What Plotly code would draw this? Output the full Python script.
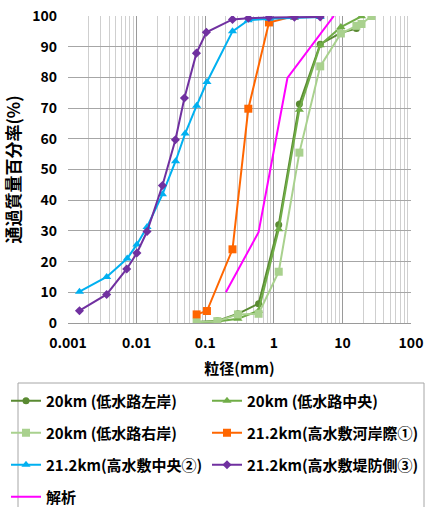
import plotly.graph_objects as go

FONT = "Noto Sans CJK JP"

names = ["20km (低水路左岸)", "20km (低水路中央)", "20km (低水路右岸)",
         "21.2km(高水敷河岸際①)", "21.2km(高水敷中央②)", "21.2km(高水敷堤防側③)", "解析"]

x_left = [0.075, 0.15, 0.3, 0.6, 1.18, 2.36, 4.75, 9.5, 16]
y_left = [0.3, 0.7, 3.0, 6.3, 32.0, 71.3, 90.8, 94.5, 95.9]

x_mid = [0.075, 0.15, 0.3, 0.6, 1.18, 2.36, 4.75, 9.5, 19]
y_mid = [0.2, 0.5, 1.4, 4.0, 30.5, 69.5, 90.5, 96.4, 99.9]

x_right = [0.075, 0.15, 0.3, 0.6, 1.18, 2.36, 4.75, 9.5, 16, 19, 26.5]
y_right = [0.3, 0.6, 2.8, 3.0, 16.7, 55.5, 83.6, 94.3, 96.8, 97.4, 100]

x_p1 = [0.075, 0.106, 0.25, 0.425, 0.85, 2.0]
y_p1 = [2.8, 3.9, 24.0, 69.8, 97.9, 100]

x_p2 = [0.00147, 0.00366, 0.0073, 0.0101, 0.0142, 0.0238, 0.037, 0.051, 0.075, 0.106,
        0.25, 0.425, 0.85, 2.0, 4.75]
y_p2 = [10.2, 15.0, 21.0, 25.6, 31.3, 41.9, 52.7, 61.7, 70.8, 78.5, 95.0, 98.6, 99.1, 99.5, 99.7]

x_p3 = [0.00147, 0.00366, 0.00718, 0.0101, 0.0142, 0.0238, 0.0368, 0.0498, 0.0745, 0.104,
        0.25, 0.425, 0.85, 2.0, 4.75]
y_p3 = [4.0, 9.3, 17.6, 22.8, 29.8, 44.8, 59.7, 73.3, 87.9, 94.7, 98.9, 99.3, 99.5, 99.6, 99.7]

x_calc = [0.2, 0.6, 1.58, 7.5]
y_calc = [10.0, 29.6, 79.8, 100]

x_ticks = [0.001, 0.01, 0.1, 1, 10, 100]
x_ticktext = ["0.001", "0.01", "0.1", "1", "10", "100"]
y_ticks = [0, 10, 20, 30, 40, 50, 60, 70, 80, 90, 100]

series = [
    (x_left, y_left, "#5a8a32", "circle", 7),
    (x_mid, y_mid, "#70ad47", "triangle-up", 8),
    (x_right, y_right, "#a9d18e", "square", 8),
    (x_p1, y_p1, "#ff6600", "square", 8),
    (x_p2, y_p2, "#00b0f0", "triangle-up", 8),
    (x_p3, y_p3, "#7030a0", "diamond", 7),
]

legend_ids = ["legend", "legend2", "legend3", "legend4", "legend5", "legend6", "legend7"]

fig = go.Figure()
for (xs, ys, col, sym, sz), nm, lg in zip(series, names, legend_ids):
    fig.add_trace(go.Scatter(x=xs, y=ys, name=nm, mode="lines+markers",
                             line=dict(color=col, width=2),
                             marker=dict(color=col, symbol=sym, size=sz),
                             legend=lg, showlegend=True))
fig.add_trace(go.Scatter(x=x_calc, y=y_calc, name=names[6], mode="lines",
                         line=dict(color="#ff00ff", width=2), legend=legend_ids[6],
                         showlegend=True))

# body margin is removed by a post script, so figure pixels = window pixels
W, H = 434, 507
L, T = 68, 16
R = W - 411
B = H - 323
pw, ph = W - L - R, H - T - B

def px2x(px):
    return (px - L) / pw

def py2y(py):
    return (H - B - py) / ph

legfont = dict(family=FONT, size=15, color="black", weight="bold")
leg_common = dict(orientation="v", xanchor="left", yanchor="middle", font=legfont,
                  bgcolor="rgba(0,0,0,0)", borderwidth=0, itemwidth=30, visible=True)
rows = [401, 433, 465, 497]
cols = [6, 207]
positions = [(cols[0], rows[0]), (cols[1], rows[0]), (cols[0], rows[1]), (cols[1], rows[1]),
             (cols[0], rows[2]), (cols[1], rows[2]), (cols[0], rows[3])]

legends = {}
for lg, (lx, ly) in zip(legend_ids, positions):
    legends[lg] = dict(x=px2x(lx), y=py2y(ly), **leg_common)

fig.update_layout(
    width=W, height=H,
    showlegend=True,
    margin=dict(l=L, r=R, t=T, b=B, autoexpand=False),
    paper_bgcolor="white", plot_bgcolor="white",
    font=dict(family=FONT, size=14, color="black"),
    xaxis=dict(type="log", range=[-3, 2], tickvals=x_ticks, ticktext=x_ticktext,
               showgrid=True, gridcolor="#9a9a9a", gridwidth=1,
               minor=dict(showgrid=True, gridcolor="#cfcfcf", gridwidth=1,
                          tickvals=[m * 10 ** e for e in range(-3, 2) for m in range(2, 10)]),
               ticks="", showline=True, linecolor="#9a9a9a", zeroline=False,
               ticklabelstandoff=7, ticklabeloverflow="allow",
               tickfont=dict(family=FONT, size=14, color="black", weight="bold"),
               title=dict(text="粒径(mm)", font=dict(family=FONT, size=15, color="black", weight="bold"),
                          standoff=12)),
    yaxis=dict(range=[0, 100], tickvals=y_ticks, showgrid=True, gridcolor="#a6a6a6",
               gridwidth=1, ticks="", zeroline=False, showline=False,
               ticklabelstandoff=10, ticklabeloverflow="allow",
               tickfont=dict(family=FONT, size=14, color="black", weight="bold"),
               title=dict(text="通過質量百分率(%)",
                          font=dict(family=FONT, size=17, color="black", weight="bold"),
                          standoff=8)),
    shapes=[dict(type="rect", xref="paper", yref="paper",
                 x0=px2x(18), x1=px2x(424), y0=py2y(525), y1=py2y(383),
                 line=dict(color="#a6a6a6", width=1), fillcolor="rgba(0,0,0,0)",
                 layer="above")],
    **legends,
)

fig.write_html("out.html",
               config={"displayModeBar": False},
               post_script="document.body.style.margin='0px';document.body.style.overflow='hidden';")
